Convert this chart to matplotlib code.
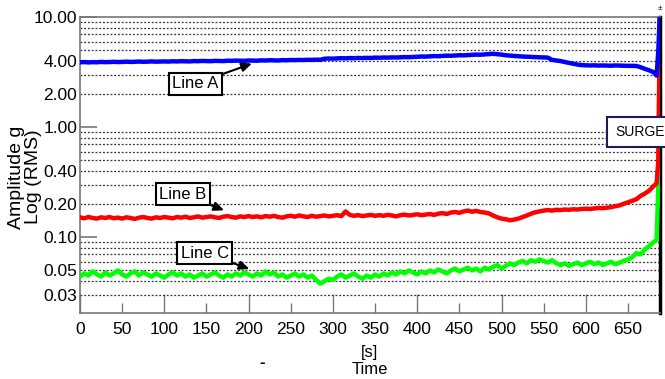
import matplotlib
matplotlib.use("Agg")
import matplotlib.pyplot as plt
from matplotlib.ticker import FixedLocator, FuncFormatter

# ---------------- data ----------------
time_s = list(range(0, 681, 5)) + [684, 686, 688]

line_a = [3.90, 3.92, 3.89, 3.91, 3.90, 3.93, 3.91, 3.92, 3.94, 3.92, 3.93,
          3.95, 3.93, 3.94, 3.96, 3.94, 3.95, 3.97, 3.95, 3.96, 3.97,
          3.96, 3.98, 3.97, 3.99, 3.98, 3.97, 4.00, 3.99, 4.01, 4.00,
          3.99, 4.02, 4.01, 4.00, 4.03, 4.02, 4.04, 4.03, 4.02, 4.05,
          4.04, 4.03, 4.06, 4.05, 4.07, 4.06, 4.05, 4.08, 4.07, 4.09,
          4.08, 4.10, 4.09, 4.11, 4.10, 4.12, 4.11, 4.20, 4.22, 4.21,
          4.23, 4.25, 4.24, 4.26, 4.25, 4.27, 4.26, 4.28, 4.27, 4.30,
          4.29, 4.31, 4.30, 4.32, 4.31, 4.33, 4.35, 4.34, 4.36, 4.38,
          4.40, 4.39, 4.42, 4.44, 4.43, 4.46, 4.48, 4.47, 4.50, 4.52,
          4.51, 4.54, 4.56, 4.58, 4.57, 4.60, 4.64, 4.66, 4.62, 4.58,
          4.52, 4.48, 4.45, 4.43, 4.40, 4.38, 4.36, 4.35, 4.33, 4.32,
          4.30, 4.10, 4.05, 4.00, 3.92, 3.85, 3.78, 3.72, 3.68, 3.66,
          3.65, 3.66, 3.64, 3.65, 3.64, 3.63, 3.65, 3.64, 3.63, 3.62,
          3.62, 3.61, 3.52, 3.40, 3.30, 3.18,
          2.95, 5.00, 12.0]

line_b = [0.152, 0.149, 0.153, 0.150, 0.148, 0.152, 0.150, 0.153, 0.149, 0.151, 0.148,
          0.152, 0.150, 0.147, 0.151, 0.153, 0.150, 0.148, 0.152, 0.150, 0.153,
          0.151, 0.149, 0.153, 0.151, 0.154, 0.150, 0.152, 0.155, 0.151, 0.153,
          0.155, 0.152, 0.150, 0.154, 0.156, 0.153, 0.151, 0.155, 0.153, 0.156,
          0.153, 0.155, 0.152, 0.156, 0.154, 0.157, 0.153, 0.151, 0.155, 0.157,
          0.154, 0.158, 0.155, 0.153, 0.157, 0.154, 0.156, 0.158, 0.155, 0.157,
          0.159, 0.156, 0.172, 0.160, 0.157, 0.159, 0.156, 0.158, 0.160, 0.157,
          0.159, 0.157, 0.160, 0.158, 0.155, 0.159, 0.161, 0.158, 0.160, 0.162,
          0.159, 0.161, 0.163, 0.160, 0.164, 0.166, 0.163, 0.168, 0.170, 0.167,
          0.172, 0.175, 0.171, 0.174, 0.170, 0.168, 0.165, 0.158, 0.152, 0.148,
          0.146, 0.143, 0.145, 0.148, 0.153, 0.158, 0.164, 0.169, 0.172, 0.175,
          0.177, 0.175, 0.178, 0.177, 0.179, 0.178, 0.180, 0.179, 0.181, 0.182,
          0.181, 0.183, 0.185, 0.184, 0.186, 0.188, 0.192, 0.195, 0.202, 0.208,
          0.215, 0.222, 0.238, 0.250, 0.265, 0.290,
          0.310, 0.500, 12.0]

line_c = [0.044, 0.047, 0.045, 0.049, 0.046, 0.044, 0.048, 0.045, 0.047, 0.050, 0.046,
          0.044, 0.047, 0.049, 0.045, 0.048, 0.046, 0.044, 0.047, 0.045, 0.043,
          0.046, 0.048, 0.045, 0.047, 0.044, 0.046, 0.043, 0.045, 0.047, 0.044,
          0.046, 0.048, 0.045, 0.043, 0.046, 0.044, 0.047, 0.045, 0.048, 0.046,
          0.044, 0.047, 0.045, 0.049, 0.046, 0.048, 0.044, 0.046, 0.043, 0.045,
          0.047, 0.044, 0.046, 0.043, 0.045, 0.041, 0.038, 0.040, 0.042, 0.041,
          0.044, 0.046, 0.043, 0.045, 0.047, 0.044, 0.042, 0.045, 0.043, 0.046,
          0.044, 0.047, 0.045, 0.048, 0.046, 0.049, 0.047, 0.050, 0.048, 0.046,
          0.049, 0.047, 0.050, 0.048, 0.051, 0.049, 0.047, 0.050, 0.052, 0.049,
          0.051, 0.053, 0.050, 0.052, 0.049, 0.053, 0.051, 0.054, 0.056, 0.052,
          0.055, 0.058, 0.056, 0.059, 0.061, 0.058, 0.062, 0.060, 0.063, 0.061,
          0.059, 0.062, 0.058, 0.056, 0.058, 0.055, 0.057, 0.059, 0.056, 0.058,
          0.060, 0.057, 0.059, 0.056, 0.058, 0.060, 0.057, 0.059, 0.061, 0.063,
          0.066, 0.072, 0.070, 0.078, 0.083, 0.090,
          0.095, 0.300, 12.0]

x_ticks_major = [0, 100, 200, 300, 400, 500, 600]
x_ticks_minor = [50, 150, 250, 350, 450, 550, 650]
y_major = [0.1, 1.0, 10.0]
y_labels = {10.0: "10.00", 4.0: "4.00", 2.0: "2.00", 1.0: "1.00", 0.4: "0.40",
            0.2: "0.20", 0.1: "0.10", 0.05: "0.05", 0.03: "0.03"}

# ---------------- figure ----------------
regular = ["Liberation Sans", "DejaVu Sans"]
plt.rcParams["font.family"] = regular

fig = plt.figure(figsize=(6.65, 3.79), dpi=100)
ax = fig.add_axes([80 / 665, 1 - 313.3 / 379, (660 - 80) / 665, (313.3 - 17.3) / 379])

ax.plot(time_s, line_c, color="#00ff00", lw=3.2, zorder=3)
ax.plot(time_s, line_b, color="#ff0000", lw=3.2, zorder=4)
ax.plot(time_s, line_a, color="#0000ff", lw=3.2, zorder=5)

ax.set_yscale("log")
ax.set_ylim(0.0204, 10.0)
ax.set_xlim(0, 688)

# y ticks
ax.yaxis.set_major_locator(FixedLocator(y_major))
minor_vals = [m * 10.0 ** k for k in (-2, -1, 0) for m in range(2, 10)]
ax.yaxis.set_minor_locator(FixedLocator(minor_vals))
fmt = FuncFormatter(lambda v, p: next((s for k, s in y_labels.items() if abs(v - k) / k < 1e-6), ""))
ax.yaxis.set_major_formatter(fmt)
ax.yaxis.set_minor_formatter(fmt)
ax.tick_params(axis="y", which="major", direction="in", length=12, width=1.2,
               color="#777777", pad=2, labelsize=12.5)
ax.tick_params(axis="y", which="minor", direction="in", length=0, pad=2, labelsize=12.5)
ax.grid(which="minor", axis="y", linestyle=(0, (1.5, 1.5)), color="#333333", lw=0.9)

# x ticks
ax.xaxis.set_major_locator(FixedLocator(x_ticks_major))
ax.xaxis.set_minor_locator(FixedLocator(x_ticks_minor))
ax.xaxis.set_minor_formatter(FuncFormatter(lambda v, p: f"{int(round(v))}"))
ax.tick_params(axis="x", which="major", direction="in", length=14, width=1.0,
               color="#777777", pad=6, labelsize=12.5)
ax.tick_params(axis="x", which="minor", direction="in", length=7, width=1.0,
               color="#777777", pad=6, labelsize=12.5)

for s in ("left", "bottom", "top"):
    ax.spines[s].set_color("#777777")
    ax.spines[s].set_linewidth(1.2)
ax.spines["right"].set_color("black")
ax.spines["right"].set_linewidth(2.5)
ax.spines["right"].set_zorder(2)

# annotations
box = dict(boxstyle="square,pad=0.2", fc="white", ec="black", lw=1.5)
arrow = dict(arrowstyle="-|>,head_length=0.5,head_width=0.22", color="black", lw=1.5,
             shrinkA=0, shrinkB=0)
ax.annotate("Line A", xy=(204, 3.8), xytext=(137, 2.49), fontsize=12, bbox=box,
            ha="center", va="center", arrowprops=arrow, zorder=10)
ax.annotate("Line B", xy=(171, 0.176), xytext=(122, 0.247), fontsize=12, bbox=box,
            ha="center", va="center", arrowprops=arrow, zorder=10)
ax.annotate("Line C", xy=(201, 0.0516), xytext=(148, 0.072), fontsize=12, bbox=box,
            ha="center", va="center", arrowprops=arrow, zorder=10)

fig.text(615 / 665, 1 - 132 / 379, "SURGE", fontsize=10, ha="left", va="center",
         bbox=dict(boxstyle="square,pad=0.55", fc="white", ec="#1c1c5a", lw=1.5), zorder=20)
fig.text(660 / 665, 1 - 8 / 379, "±", fontsize=6, ha="center", va="center")

# axis labels
fig.text(25 / 665, 1 - 177 / 379, "Amplitude g\nLog (RMS)", rotation=90, ha="center",
         va="center", fontsize=14, linespacing=0.95, multialignment="center")
fig.text(369 / 665, 1 - 352 / 379, "[s]", fontsize=12, ha="center", va="center")
fig.text(370 / 665, 1 - 369 / 379, "Time", fontsize=12, ha="center", va="center")
fig.text(262 / 665, 1 - 362 / 379, "-", fontsize=12, ha="center", va="center",
         fontweight="bold")

fig.savefig("out.png", dpi=100)
